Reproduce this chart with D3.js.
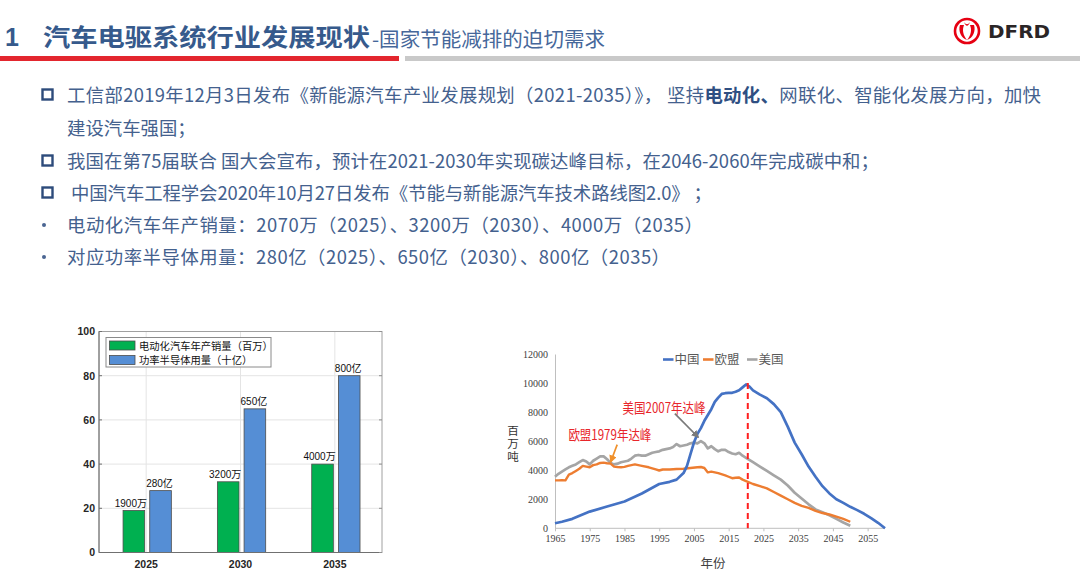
<!DOCTYPE html>
<html><head><meta charset="utf-8">
<script src="https://cdn.jsdelivr.net/npm/d3@7"></script>
<style>body{margin:0;background:#fff;} svg{display:block;} text{white-space:pre;}</style>
</head><body>
<svg id="c" width="1080" height="579"></svg>
<script>
// ---------------- data ----------------
const titleNum = "1";
const titleMain = "汽车电驱系统行业发展现状";
const titleSub = "-国家节能减排的迫切需求";
const logoText = "DFRD";

const bulletTypes = ["square", "none", "square", "square", "dot", "dot"];
const bulletTexts = [
  [["工信部2019年12月3日发布《新能源汽车产业发展规划（2021-2035）》， 坚持", false], ["电动化、", true], ["网联化、智能化发展方向，加快", false]],
  [["建设汽车强国；", false]],
  [["我国在第75届联合 国大会宣布，预计在2021-2030年实现碳达峰目标，在2046-2060年完成碳中和；", false]],
  [[" 中国汽车工程学会2020年10月27日发布《节能与新能源汽车技术路线图2.0》 ；", false]],
  [["电动化汽车年产销量：2070万（2025）、3200万（2030）、4000万（2035）", false]],
  [["对应功率半导体用量：280亿（2025）、650亿（2030）、800亿（2035）", false]]
];

const barCategories = ["2025", "2030", "2035"];
const barSeriesNames = ["电动化汽车年产销量（百万）", "功率半导体用量（十亿）"];
const evSales = [19, 32, 40];
const semiUsage = [28, 65, 80];
const evLabels = ["1900万", "3200万", "4000万"];
const semiLabels = ["280亿", "650亿", "800亿"];
const barYTicks = [0, 20, 40, 60, 80, 100];

const lineSeriesNames = ["中国", "欧盟", "美国"];
const cnYears = [1965,1967,1970,1975,1980,1985,1990,1995,1998,2000,2002,2003,2004,2005,2006,2007,2008,2009,2010,2011,2012,2013,2014,2015,2016,2017,2018,2019,2020,2021,2022,2024,2026,2028,2030,2032,2034,2036,2038,2040,2042,2044,2046,2048,2050,2052,2054,2056,2058,2060];
const cnValues = [350,450,650,1150,1500,1850,2400,3050,3200,3350,3800,4300,5100,5900,6500,6900,7400,7800,8200,8700,9000,9250,9300,9320,9330,9400,9500,9700,9900,9750,9500,9200,8950,8550,8000,7000,5900,5100,4250,3550,2900,2400,2000,1750,1480,1250,1000,700,380,0];
const euYears = [1965,1966,1967,1968,1969,1970,1971,1972,1973,1974,1975,1976,1977,1978,1979,1980,1981,1982,1983,1984,1985,1986,1987,1988,1989,1990,1992,1994,1995,1996,1998,2000,2002,2004,2006,2007,2008,2009,2010,2012,2014,2015,2016,2017,2018,2019,2020,2022,2024,2026,2028,2030,2032,2034,2036,2038,2040,2042,2044,2046,2048,2050];
const euValues = [3300,3300,3320,3300,3700,3800,3950,4100,4300,4250,4200,4350,4400,4500,4520,4480,4450,4250,4220,4200,4230,4300,4350,4400,4350,4300,4200,4050,3980,4050,4050,4080,4100,4150,4200,4220,4150,3850,3900,3800,3650,3550,3450,3480,3500,3350,3250,3050,2900,2750,2500,2250,2000,1750,1550,1400,1200,1050,950,800,650,450];
const usYears = [1965,1966,1967,1968,1969,1970,1971,1972,1973,1974,1975,1976,1977,1978,1979,1980,1981,1982,1983,1984,1985,1986,1987,1988,1989,1990,1991,1992,1993,1994,1995,1996,1997,1998,1999,2000,2001,2002,2003,2004,2005,2006,2007,2008,2009,2010,2011,2012,2013,2014,2015,2016,2017,2018,2019,2020,2022,2024,2026,2028,2030,2032,2034,2036,2038,2040,2042,2044,2046,2048,2050];
const usValues = [3550,3750,3900,4050,4200,4300,4400,4550,4700,4600,4400,4650,4800,4950,4950,4750,4500,4400,4450,4550,4600,4650,4800,5000,5050,5000,5000,5100,5200,5250,5300,5400,5450,5500,5600,5800,5650,5700,5750,5850,5900,5850,6000,5850,5500,5650,5450,5300,5400,5400,5250,5150,5100,5200,5000,4850,4550,4250,3950,3650,3350,2950,2450,2050,1650,1300,1100,900,650,400,170];
const lineXTicks = [1965,1975,1985,1995,2005,2015,2025,2035,2045,2055];
const lineYTicks = [0,2000,4000,6000,8000,10000,12000];
const peakLineYear = 2020.5;
const annoTexts = ["美国2007年达峰", "欧盟1979年达峰"];
const annoTextPos = [[1996.4, 8300], [1980.8, 6440]];
const annoArrowFrom = [[1999.5, 7900], [1982.9, 5760]];
const annoArrowTo = [[2006.3, 6250], [1981, 4550]];
const lineYTitle = "百万吨";
const lineXTitle = "年份";

// ---------------- drawing ----------------
const svg = d3.select("#c");
const CJK = "'Noto Sans CJK SC','Noto Sans',sans-serif";

// header
svg.append("text").attr("x", 5).attr("y", 46).attr("font-family", "'Liberation Sans',Arial,sans-serif")
  .attr("font-weight", "bold").attr("font-size", 25).attr("fill", "#365a8c").text(titleNum);
svg.append("text").attr("x", 43).attr("y", 46).attr("font-family", CJK).attr("font-weight", "bold")
  .attr("font-size", 24).attr("fill", "#365a8c").attr("textLength", 327).attr("lengthAdjust", "spacingAndGlyphs").text(titleMain);
svg.append("text").attr("x", 372).attr("y", 47).attr("font-family", CJK)
  .attr("font-size", 20).attr("fill", "#46679a").attr("textLength", 233).attr("lengthAdjust", "spacingAndGlyphs").text(titleSub);
svg.append("rect").attr("x", 0).attr("y", 56).attr("width", 399).attr("height", 5).attr("fill", "#e3262e");
svg.append("rect").attr("x", 405).attr("y", 56).attr("width", 675).attr("height", 5).attr("fill", "#c9c9c9");

// logo
const logo = svg.append("g").attr("transform", "translate(967,31)");
logo.append("circle").attr("r", 12).attr("fill", "none").attr("stroke", "#e60012").attr("stroke-width", 2.6);
logo.append("path").attr("d", "M-7,-6 C-9,0 -6,7 0,9 C-4,4 -5,-1 -3,-6 Z").attr("fill", "#e60012");
logo.append("path").attr("d", "M7,-6 C9,0 6,7 0,9 C4,4 5,-1 3,-6 Z").attr("fill", "#e60012");
logo.append("path").attr("d", "M-3,-9 C-1,-4 1,-4 3,-9 C1,-6 -1,-6 -3,-9 Z").attr("fill", "#e60012");
svg.append("text").attr("x", 988).attr("y", 38).attr("font-family", "'DejaVu Sans',sans-serif").attr("font-weight", "bold")
  .attr("font-size", 17).attr("fill", "#2a2526").attr("textLength", 62).attr("lengthAdjust", "spacingAndGlyphs").text(logoText);

// bullets
const lineCenters = [95, 128, 161, 193, 225, 257];
const lineLengths = [974, 0, 812, 645, 636, 603];
bulletTexts.forEach((segs, i) => {
  const cy = lineCenters[i];
  if (bulletTypes[i] === "square") {
    svg.append("rect").attr("x", 42.5).attr("y", cy - 5.5).attr("width", 10).attr("height", 10)
      .attr("fill", "none").attr("stroke", "#2d4b7b").attr("stroke-width", 2.4);
  } else if (bulletTypes[i] === "dot") {
    svg.append("circle").attr("cx", 44).attr("cy", cy).attr("r", 2).attr("fill", "#4a6592");
  }
  const t = svg.append("text").attr("x", 67).attr("y", cy + 7).attr("font-family", CJK).attr("font-size", 18.4).attr("fill", "#44618e");
  if (lineLengths[i]) t.attr("textLength", lineLengths[i]).attr("lengthAdjust", "spacing");
  segs.forEach(s => {
    t.append("tspan").attr("font-weight", s[1] ? "bold" : "normal").attr("fill", s[1] ? "#2f4f82" : "#44618e").text(s[0]);
  });
});

// ---------------- bar chart ----------------
const bx0 = 99, bx1 = 382, by0 = 552.5, by1 = 331.5;
const xb = d3.scaleBand().domain(barCategories).range([bx0, bx1]);
const xs = d3.scaleBand().domain([0, 1]).range([xb.bandwidth() * 0.255, xb.bandwidth() * 0.767]).paddingInner(0.19);
const yb = d3.scaleLinear().domain([0, 100]).range([by0, by1]);
const bg = svg.append("g");
// grid
bg.selectAll(".hg").data(barYTicks.slice(1, -1)).enter().append("line")
  .attr("x1", bx0).attr("x2", bx1).attr("y1", d => yb(d)).attr("y2", d => yb(d)).attr("stroke", "#e4e4e4").attr("stroke-width", 1);
bg.selectAll(".vg").data(barCategories).enter().append("line")
  .attr("x1", d => xb(d) + xb.bandwidth() / 2).attr("x2", d => xb(d) + xb.bandwidth() / 2)
  .attr("y1", by0).attr("y2", by1).attr("stroke", "#e4e4e4").attr("stroke-width", 1);
// bars
const barSeries = [evSales, semiUsage];
const barColors = ["#00b050", "#558ed5"];
const barLabels = [evLabels, semiLabels];
barSeries.forEach((vals, s) => {
  bg.selectAll(".b" + s).data(vals).enter().append("rect")
    .attr("x", (d, i) => xb(barCategories[i]) + xs(s)).attr("width", xs.bandwidth())
    .attr("y", d => yb(d)).attr("height", d => yb(0) - yb(d))
    .attr("fill", barColors[s]).attr("stroke", "#4d4d4d").attr("stroke-width", 0.8);
  bg.selectAll(".l" + s).data(vals).enter().append("text")
    .attr("x", (d, i) => xb(barCategories[i]) + xs(s) + xs.bandwidth() / 2 - (s === 0 ? 3 : 1)).attr("y", d => yb(d) - 4)
    .attr("text-anchor", "middle").attr("font-family", "'Liberation Sans'," + CJK).attr("font-size", 10).attr("fill", "#111")
    .text((d, i) => barLabels[s][i]);
});
// frame
bg.append("rect").attr("x", bx0).attr("y", by1).attr("width", bx1 - bx0).attr("height", by0 - by1)
  .attr("fill", "none").attr("stroke", "#a0a0a0").attr("stroke-width", 1);
bg.append("line").attr("x1", bx0).attr("x2", bx0).attr("y1", by1).attr("y2", by0).attr("stroke", "#707070");
bg.append("line").attr("x1", bx0).attr("x2", bx1).attr("y1", by0).attr("y2", by0).attr("stroke", "#707070");
// ticks
barYTicks.forEach(d => {
  bg.append("line").attr("x1", bx0).attr("x2", bx0 + 3).attr("y1", yb(d)).attr("y2", yb(d)).attr("stroke", "#707070");
  bg.append("line").attr("x1", bx1).attr("x2", bx1 - 3).attr("y1", yb(d)).attr("y2", yb(d)).attr("stroke", "#909090");
});
const yAxisB = d3.axisLeft(yb).tickValues(barYTicks).tickSize(0).tickPadding(4);
const yag = bg.append("g").attr("transform", `translate(${bx0},0)`).call(yAxisB);
yag.select(".domain").remove();
yag.selectAll("text").attr("font-family", "'Liberation Sans',Arial,sans-serif").attr("font-weight", "bold").attr("font-size", 10.5).attr("fill", "#262626");
const xAxisB = d3.axisBottom(xb).tickSize(0).tickPadding(8);
const xag = bg.append("g").attr("transform", `translate(0,${by0})`).call(xAxisB);
xag.select(".domain").remove();
xag.selectAll("text").attr("font-family", "'Liberation Sans',Arial,sans-serif").attr("font-weight", "bold").attr("font-size", 10.5).attr("fill", "#262626");
// legend
const lg = bg.append("g");
lg.append("rect").attr("x", 106).attr("y", 337.5).attr("width", 165).attr("height", 29.5).attr("fill", "#fff").attr("stroke", "#8a8a8a").attr("stroke-width", 1);
barSeriesNames.forEach((n, i) => {
  lg.append("rect").attr("x", 109.5).attr("y", 341 + i * 14.5).attr("width", 25.5).attr("height", 9).attr("fill", barColors[i]).attr("stroke", "#4d4d4d").attr("stroke-width", 0.8);
  lg.append("text").attr("x", 139).attr("y", 349.5 + i * 14.5).attr("font-family", CJK).attr("font-size", 10.3).attr("fill", "#111").text(n);
});

// ---------------- line chart ----------------
const x = d3.scaleLinear().domain([1965, 2060]).range([555, 885]);
const y = d3.scaleLinear().domain([0, 12000]).range([528.3, 354]);
const lgp = svg.append("g");
const xAx = d3.axisBottom(x).tickValues(lineXTicks).tickFormat(d3.format("d")).tickSize(3).tickPadding(4);
const xg = lgp.append("g").attr("transform", `translate(0,${y(0)})`).call(xAx);
xg.select(".domain").attr("d", `M${x(1965)},0H${x(2060)}`).attr("stroke", "#bfbfbf");
xg.selectAll(".tick line").attr("stroke", "#bfbfbf");
xg.selectAll("text").attr("font-family", "'Liberation Serif',serif").attr("font-size", 10).attr("fill", "#404040");
const yAx = d3.axisLeft(y).tickValues(lineYTicks).tickFormat(d3.format("d")).tickSize(0).tickPadding(7);
const yg = lgp.append("g").attr("transform", `translate(${x(1965)},0)`).call(yAx);
yg.select(".domain").attr("stroke", "#bfbfbf");
yg.selectAll("text").attr("font-family", "'Liberation Serif',serif").attr("font-size", 10).attr("fill", "#404040");

const seriesData = [
  [cnYears, cnValues, "#4472c4", 2.7],
  [euYears, euValues, "#ed7d31", 2.4],
  [usYears, usValues, "#a5a5a5", 2.7]
];
const lineGen = d3.line().x(d => x(d[0])).y(d => y(d[1]));
[2, 1, 0].forEach(i => {
  const s = seriesData[i];
  const pts = s[0].map((yr, k) => [yr, s[1][k]]);
  lgp.append("path").attr("d", lineGen(pts)).attr("fill", "none").attr("stroke", s[2]).attr("stroke-width", s[3]).attr("stroke-linejoin", "round");
});
// dashed peak line
lgp.append("line").attr("x1", x(peakLineYear)).attr("x2", x(peakLineYear)).attr("y1", y(10000)).attr("y2", y(0))
  .attr("stroke", "#ff1f1f").attr("stroke-width", 2).attr("stroke-dasharray", "6,4");

// legend
lineSeriesNames.forEach((n, i) => {
  const lx = [663, 703, 747][i];
  lgp.append("line").attr("x1", lx).attr("x2", lx + 10.5).attr("y1", 359.5).attr("y2", 359.5).attr("stroke", seriesData[i][2]).attr("stroke-width", 2.6);
  lgp.append("text").attr("x", lx + 11.5).attr("y", 364).attr("font-family", CJK).attr("font-size", 12.5).attr("fill", "#595959").text(n);
});

// annotations
const defs = svg.append("defs");
const arrowColors = ["#7a7a7a", "#f0902a"];
arrowColors.forEach((c, i) => {
  defs.append("marker").attr("id", "ah" + i).attr("viewBox", "0 0 10 10").attr("refX", 9).attr("refY", 5)
    .attr("markerWidth", 4.5).attr("markerHeight", 4.5).attr("orient", "auto")
    .append("path").attr("d", "M0,0L10,5L0,10Z").attr("fill", c);
});
annoTexts.forEach((t, i) => {
  lgp.append("line").attr("x1", x(annoArrowFrom[i][0])).attr("y1", y(annoArrowFrom[i][1]))
    .attr("x2", x(annoArrowTo[i][0])).attr("y2", y(annoArrowTo[i][1]))
    .attr("stroke", arrowColors[i]).attr("stroke-width", 1.7).attr("marker-end", `url(#ah${i})`);
  lgp.append("text").attr("x", x(annoTextPos[i][0])).attr("y", y(annoTextPos[i][1]) + 5).attr("text-anchor", "middle")
    .attr("font-family", CJK).attr("font-size", 14).attr("fill", "#e8262b")
    .attr("textLength", 83).attr("lengthAdjust", "spacingAndGlyphs").text(t);
});
// axis titles
lgp.append("text").attr("x", 513).attr("y", 444).attr("text-anchor", "middle").attr("font-family", CJK)
  .style("writing-mode", "vertical-rl").style("text-orientation", "upright").attr("letter-spacing", 1.5)
  .attr("font-size", 11.5).attr("fill", "#333").text(lineYTitle);
lgp.append("text").attr("x", 713).attr("y", 568).attr("text-anchor", "middle").attr("font-family", CJK)
  .attr("font-size", 12.5).attr("fill", "#404040").text(lineXTitle);
</script>
</body></html>
